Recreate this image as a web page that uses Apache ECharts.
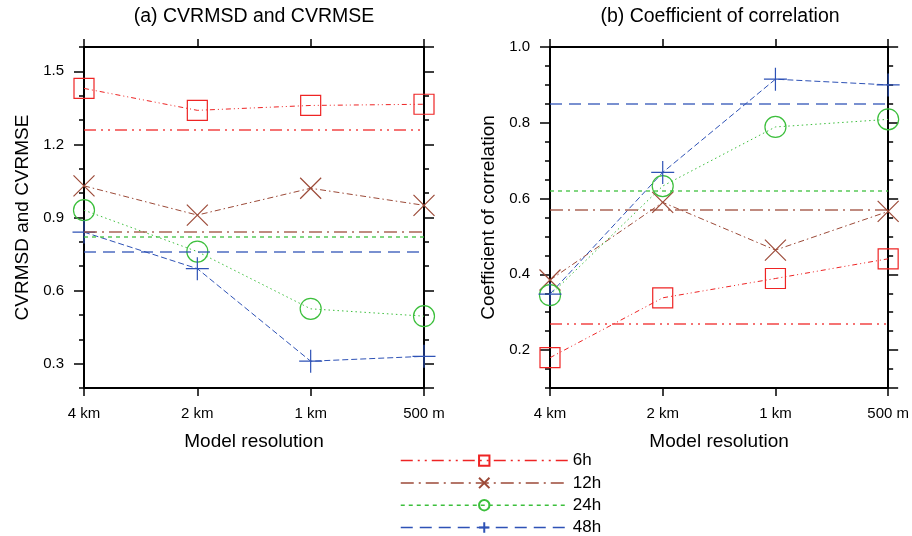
<!DOCTYPE html>
<html>
<head>
<meta charset="utf-8">
<script src="https://cdn.jsdelivr.net/npm/echarts@6/dist/echarts.min.js"></script>
<style>
  html, body { margin: 0; padding: 0; background: #fff; }
  #main { width: 912px; height: 536px; }
</style>
</head>
<body>
<div id="main"></div>
<script>
var categories = ['4 km', '2 km', '1 km', '500 m'];
var seriesNames = ['6h', '12h', '24h', '48h'];

// (a) CVRMSD and CVRMSE
var cv6h = [1.43, 1.34, 1.36, 1.365];
var cv12h = [1.03, 0.91, 1.02, 0.95];
var cv24h = [0.93, 0.76, 0.525, 0.495];
var cv48h = [0.84, 0.69, 0.31, 0.33];
var cvRef = [1.265, 0.843, 0.825, 0.758];

// (b) Coefficient of correlation
var cc6h = [0.18, 0.338, 0.389, 0.441];
var cc12h = [0.385, 0.59, 0.464, 0.566];
var cc24h = [0.345, 0.633, 0.789, 0.809];
var cc48h = [0.348, 0.669, 0.915, 0.90];
var ccRef = [0.271, 0.573, 0.623, 0.85];

var colors = ['#ee2424', '#9c4a38', '#3cbf3c', '#2e52b6'];
var symbols = [
    'rect',
    'path://M0,0L1,1M1,0L0,1',
    'circle',
    'path://M0.5,0L0.5,1M0,0.5L1,0.5'
];
var symbolSizes = [20, 21, 21, 23];
// fine dash patterns on the curves, longer ones on the reference lines
var curveDash = [[5, 3, 1, 3, 1, 3], [6, 3, 1.5, 3], [1.5, 3], [6, 3]];
var refDash = [[12, 5, 2, 5, 2, 5], [13, 5, 2, 5], [4, 4], [12, 7]];

var font = 'Liberation Sans, Arial, Helvetica, sans-serif';

function xAxes(grid) {
    return [{
        type: 'category', gridIndex: grid, position: 'bottom', data: categories,
        boundaryGap: false,
        name: 'Model resolution', nameLocation: 'middle', nameGap: 44,
        nameTextStyle: { fontSize: 19, color: '#000', fontFamily: font },
        axisLine: { onZero: false, lineStyle: { color: '#000', width: 2 } },
        axisTick: { inside: false, length: 8, lineStyle: { color: '#000', width: 1.5 } },
        axisLabel: { fontSize: 15, color: '#000', margin: 18, fontFamily: font },
        splitLine: { show: false }
    }, {
        type: 'category', gridIndex: grid, position: 'top', data: categories,
        boundaryGap: false,
        axisLine: { onZero: false, lineStyle: { color: '#000', width: 2 } },
        axisTick: { inside: false, length: 8, lineStyle: { color: '#000', width: 1.5 } },
        axisLabel: { show: false },
        splitLine: { show: false }
    }];
}

function yAxes(grid, min, max, minor, name, showMax) {
    var list = [];
    ['left', 'right'].forEach(function (pos) {
        list.push({
            type: 'value', gridIndex: grid, position: pos, min: min, max: max, splitNumber: 5,
            name: pos === 'left' ? name : '', nameLocation: 'middle', nameGap: 52,
            nameTextStyle: { fontSize: 19, color: '#000', fontFamily: font },
            axisLine: { show: true, onZero: false, lineStyle: { color: '#000', width: 2 } },
            axisTick: { show: true, inside: false, length: 10, lineStyle: { color: '#000', width: 1.5 } },
            axisLabel: {
                show: pos === 'left', fontSize: 15, color: '#000', margin: 20, fontFamily: font,
                showMinLabel: false, showMaxLabel: showMax,
                formatter: function (v) { return v.toFixed(1); }
            },
            splitLine: { show: false }
        });
        list.push({
            type: 'value', gridIndex: grid, position: pos, min: min, max: max, interval: minor,
            axisLine: { show: false },
            axisTick: { show: true, inside: false, length: 5, lineStyle: { color: '#000', width: 1.5 } },
            axisLabel: { show: false },
            splitLine: { show: false }
        });
    });
    return list;
}

function buildSeries(grid, yIndex, valueLists, refs) {
    return valueLists.map(function (vals, i) {
        return {
            name: seriesNames[i], type: 'line', xAxisIndex: grid * 2, yAxisIndex: yIndex,
            data: vals, clip: false,
            symbol: symbols[i], symbolSize: symbolSizes[i],
            lineStyle: { color: colors[i], width: 1, type: curveDash[i] },
            itemStyle: { color: 'rgba(0,0,0,0)', borderColor: colors[i], borderWidth: 1.2 },
            markLine: {
                silent: true, symbol: 'none', animation: false,
                label: { show: false },
                lineStyle: { color: colors[i], width: 1.5, type: refDash[i], opacity: 0.85 },
                data: [{ yAxis: refs[i] }]
            },
            z: 3
        };
    });
}

var option = {
    animation: false,
    backgroundColor: '#fff',
    textStyle: { fontFamily: font },
    grid: [
        { left: 84, right: 488, top: 47, bottom: 148 },
        { left: 550, right: 21, top: 47, bottom: 148 }
    ],
    graphic: [
        { type: 'text', x: 254, y: 7, style: { text: '(a) CVRMSD and CVRMSE', textAlign: 'center', fontSize: 19.5, fill: '#000', fontFamily: font } },
        { type: 'text', x: 720, y: 7, style: { text: '(b) Coefficient of correlation', textAlign: 'center', fontSize: 19.5, fill: '#000', fontFamily: font } }
    ],
    legend: {
        orient: 'vertical', left: 400, bottom: 0, padding: 0,
        itemWidth: 167, itemHeight: 13, itemGap: 5.3,
        textStyle: { fontSize: 17, color: '#000', fontFamily: font },
        data: seriesNames.map(function (n, i) {
            return { name: n, lineStyle: { type: refDash[i], width: 1.5 } };
        })
    },
    xAxis: xAxes(0).concat(xAxes(1)),
    yAxis: yAxes(0, 0.2, 1.6, 0.1, 'CVRMSD and CVRMSE', false)
        .concat(yAxes(1, 0.1, 1.0, 0.05, 'Coefficient of correlation', true)),
    series: buildSeries(0, 0, [cv6h, cv12h, cv24h, cv48h], cvRef)
        .concat(buildSeries(1, 4, [cc6h, cc12h, cc24h, cc48h], ccRef))
};

var chart = echarts.init(document.getElementById('main'));
chart.setOption(option);
</script>
</body>
</html>
